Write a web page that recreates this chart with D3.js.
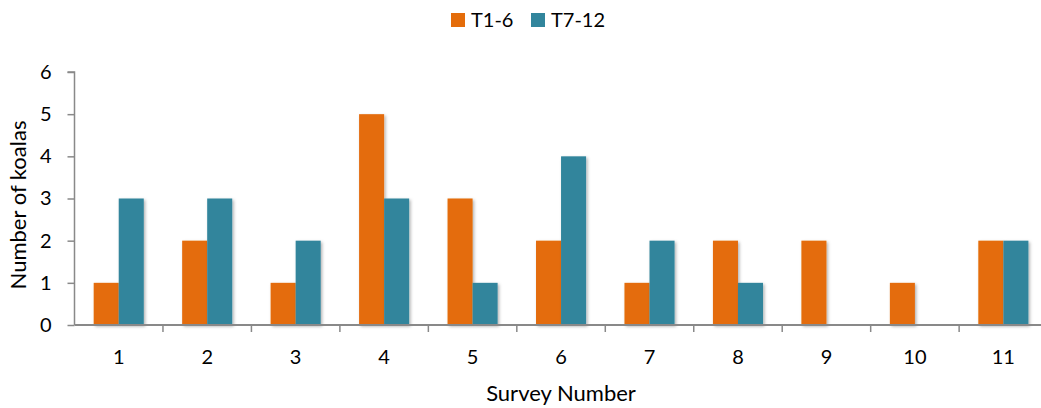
<!DOCTYPE html>
<html><head><meta charset="utf-8">
<script src="https://cdn.jsdelivr.net/npm/d3@7"></script>
<style>body{margin:0;background:#fff}svg{display:block}text{font-family:Lato,"Open Sans",sans-serif;fill:#000}</style>
</head><body><svg id="c" width="1041" height="408"></svg>
<script>
const categories = ["1","2","3","4","5","6","7","8","9","10","11"];
const seriesNames = ["T1-6","T7-12"];
const t1_6 = [1,2,1,5,3,2,1,2,2,1,2];
const t7_12 = [3,3,2,3,1,4,2,1,0,0,2];
const yTicks = [0,1,2,3,4,5,6];
const colors = ["#E46C0A","#31859C"];

(function(){
const svg = d3.select("#c");
const mLeft = 74.5, mRight = 1047.6, mTop = 72, mBottom = 325;
const x = d3.scaleBand().domain(categories).range([mLeft,mRight]).paddingInner(0).paddingOuter(0);
const y = d3.scaleLinear().domain([0,6]).range([mBottom,mTop]);
const barW = x.bandwidth()*0.283;

const defs = svg.append("defs");
const f = defs.append("filter").attr("id","sh").attr("x","-20%").attr("y","-20%").attr("width","140%").attr("height","140%");
f.append("feDropShadow").attr("dx",1.5).attr("dy",1.5).attr("stdDeviation",1.5).attr("flood-color","#000").attr("flood-opacity",0.3);

const series = [t1_6, t7_12];
series.forEach((vals,si)=>{
  svg.append("g").selectAll("rect").data(vals.map((v,i)=>({v,c:categories[i]})).filter(d=>d.v>0)).join("rect")
    .attr("x",d=>x(d.c)+x.bandwidth()/2 - barW + si*barW)
    .attr("y",d=>y(d.v))
    .attr("width",barW)
    .attr("height",d=>y(0)-y(d.v))
    .attr("fill",colors[si])
    .attr("filter","url(#sh)");
});

// y axis
const ya = svg.append("g").attr("transform",`translate(${mLeft},0)`)
  .call(d3.axisLeft(y).tickValues(yTicks).tickSize(7).tickPadding(16).tickFormat(d3.format("d")));
ya.select(".domain").attr("stroke","#898989").attr("stroke-width",1.5).attr("d",`M-7,${mTop}H0V${mBottom}`);
ya.selectAll(".tick line").attr("stroke","#898989").attr("stroke-width",1.5);
ya.selectAll(".tick text").style("font-size","20px").style("font-family","Lato, sans-serif").attr("fill","#000");

// x axis
const xa = svg.append("g").attr("transform",`translate(0,${mBottom})`)
  .call(d3.axisBottom(x).tickSize(0));
xa.select(".domain").attr("stroke","#898989").attr("stroke-width",2).attr("d",`M${mLeft},0H${mRight}`);
xa.selectAll(".tick text").attr("y",39).attr("dy",0).style("font-size","20px").style("font-family","Lato, sans-serif").attr("fill","#000");
svg.append("g").selectAll("line").data(categories.slice(1)).join("line")
  .attr("x1",d=>x(d)).attr("x2",d=>x(d)).attr("y1",mBottom).attr("y2",mBottom+7)
  .attr("stroke","#898989").attr("stroke-width",1.5);

// titles
svg.append("text").attr("transform",`translate(26,205) rotate(-90)`).attr("text-anchor","middle")
  .style("font-size","22px").text("Number of koalas");
svg.append("text").attr("x",561).attr("y",401).attr("text-anchor","middle").style("font-size","22px").text("Survey Number");

// legend
const lg = svg.append("g");
const lx = [451,531];
seriesNames.forEach((n,i)=>{
  lg.append("rect").attr("x",lx[i]).attr("y",13).attr("width",14).attr("height",14).attr("fill",colors[i]);
  lg.append("text").attr("x",lx[i]+20).attr("y",27).style("font-size","20px").text(n);
});
})();
</script></body></html>
